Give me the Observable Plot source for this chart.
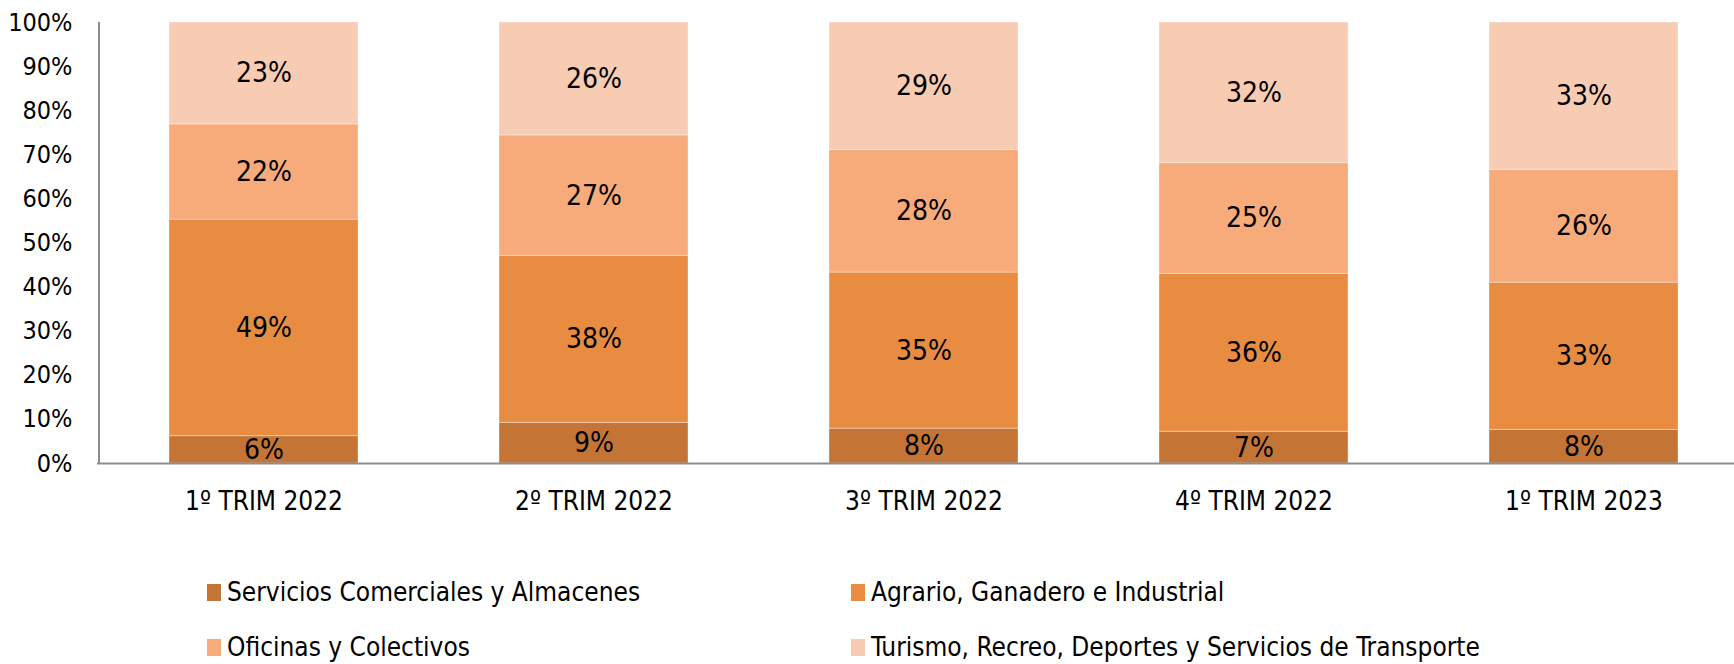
<!DOCTYPE html>
<html>
<head>
<meta charset="utf-8">
<script src="https://cdn.jsdelivr.net/npm/d3@7"></script>
<script src="https://cdn.jsdelivr.net/npm/@observablehq/plot@0.6"></script>
<style>
  body { margin: 0; background: #fff; font-family: "Liberation Sans Narrow", "DejaVu Sans Condensed", sans-serif; overflow: hidden; }
  #chart svg { display: block; }
  #legend { position: relative; width: 1734px; height: 124px; }
  .item { position: absolute; display: flex; align-items: center; font-size: 26px; color: #000; white-space: nowrap; }
  .sw { width: 14px; height: 17px; margin-right: 6px; }
</style>
</head>
<body>
<div id="chart"></div>
<div id="legend"></div>
<script>
const quarters = ["1º TRIM 2022", "2º TRIM 2022", "3º TRIM 2022", "4º TRIM 2022", "1º TRIM 2023"];
const series = [
  "Servicios Comerciales y Almacenes",
  "Agrario, Ganadero e Industrial",
  "Oficinas y Colectivos",
  "Turismo, Recreo, Deportes y Servicios de Transporte"
];
const colors = ["#C47535", "#E88C42", "#F7AB7B", "#F8CBB3"];
const comerciales = [6.2, 9.2, 7.9, 7.2, 7.6];
const agrario = [49.1, 37.9, 35.4, 35.8, 33.4];
const oficinas = [21.6, 27.3, 27.8, 25.1, 25.6];
const turismo = [23.1, 25.6, 28.9, 31.9, 33.4];
const yTicks = [0, 10, 20, 30, 40, 50, 60, 70, 80, 90, 100];

const valuesBySeries = [comerciales, agrario, oficinas, turismo];
const data = [];
series.forEach((s, i) => quarters.forEach((q, j) => data.push({q, s, v: valuesBySeries[i][j]})));

const font = '"Liberation Sans Narrow", "DejaVu Sans Condensed", sans-serif';
const chart = Plot.plot({
  width: 1734,
  height: 540,
  marginTop: 22,
  marginBottom: 77,
  marginLeft: 97,
  marginRight: 0,
  style: {fontFamily: font, fontSize: "26px", color: "#000", background: "#fff"},
  x: {domain: quarters, range: [97, 1749], paddingInner: 0.428, paddingOuter: 0.214, label: null},
  y: {domain: [0, 100], label: null},
  color: {domain: series, range: colors},
  marks: [
    Plot.barY(data, {x: "q", y: "v", fill: "s", order: series, stroke: "#fff", strokeOpacity: 0.35, strokeWidth: 1}),
    Plot.text(data, Plot.stackY({x: "q", y: "v", z: "s", order: series, text: d => Math.round(d.v) + "%", fontSize: 28, fill: "#000"})),
    Plot.axisY({ticks: yTicks, tickFormat: d => d + "%", tickSize: 0, tickPadding: 25, label: null, fontSize: 25}),
    Plot.axisX({tickSize: 0, tickPadding: 28, label: null, fontSize: 26}),
    Plot.ruleX([0], {x: () => quarters[0], dx: -165, y1: 0, y2: 100, stroke: "#8c8c8c", strokeWidth: 2}),
    Plot.ruleY([0], {stroke: "#8c8c8c", strokeWidth: 2})
  ]
});
document.getElementById("chart").appendChild(chart);

const legend = document.getElementById("legend");
const pos = [[207, 53], [851, 53], [207, 108], [851, 108]];
series.forEach((s, i) => {
  const el = document.createElement("div");
  el.className = "item";
  el.style.left = pos[i][0] + "px";
  el.style.top = (pos[i][1] - 16) + "px";
  el.innerHTML = `<span class="sw" style="background:${colors[i]}"></span><span>${s}</span>`;
  legend.appendChild(el);
});
</script>
</body>
</html>
